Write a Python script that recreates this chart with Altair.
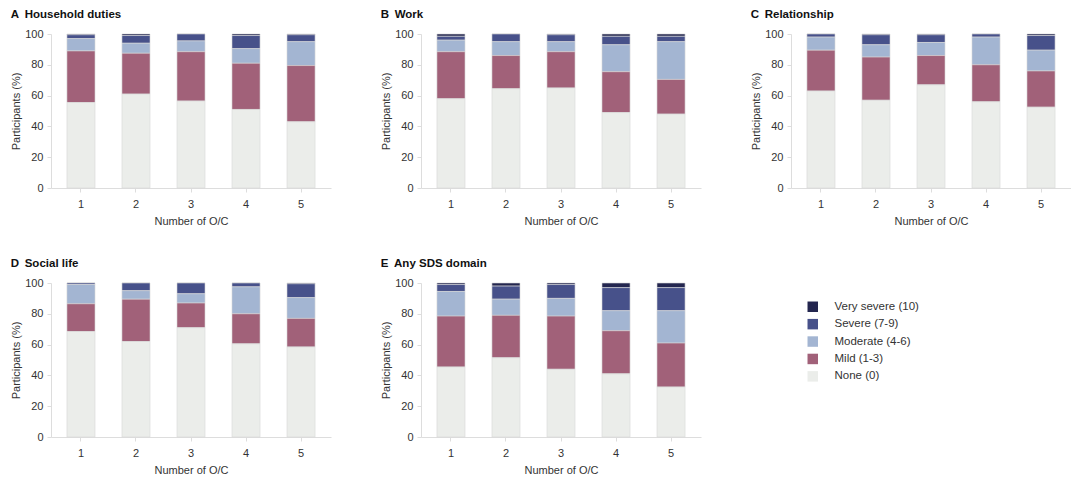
import altair as alt
import pandas as pd

levels = ["Very severe (10)", "Severe (7-9)", "Moderate (4-6)", "Mild (1-3)", "None (0)"]
colors = ["#23264f", "#47518a", "#a3b5d2", "#a16179", "#ebedea"]
oc = ["1", "2", "3", "4", "5"]

panels = ["A\u2002Household duties", "B\u2002Work", "C\u2002Relationship", "D\u2002Social life", "E\u2002Any SDS domain"]

# values per panel and severity level, per O/C count 1..5
household_none = [55.5, 61, 56.5, 51, 43]
household_mild = [33.5, 26.5, 32, 30, 36.5]
household_mod = [8, 6.5, 7, 9.5, 15.5]
household_sev = [2.5, 5, 4.5, 8.5, 4.5]
household_vs = [0.5, 1, 0, 1, 0.5]

work_none = [58, 64.5, 65, 49, 48]
work_mild = [30.5, 21.5, 23.5, 26.5, 22.5]
work_mod = [7.5, 9, 6.5, 17.5, 24.5]
work_sev = [2.5, 5, 4.5, 5.5, 3.5]
work_vs = [1.5, 0, 0.5, 1.5, 1.5]

rel_none = [63, 57, 67, 56, 52.5]
rel_mild = [26.5, 28, 19, 24, 23.5]
rel_mod = [8.5, 8, 8.5, 18, 13.5]
rel_sev = [2, 6.5, 5, 2, 9.5]
rel_vs = [0, 0.5, 0.5, 0, 1]

soc_none = [68.5, 62, 71, 60.5, 58.5]
soc_mild = [18, 27.5, 16, 19.5, 18.5]
soc_mod = [12.5, 5.5, 6, 17.5, 13.5]
soc_sev = [1, 5, 7, 2.5, 9]
soc_vs = [0, 0, 0, 0, 0.5]

any_none = [45.5, 51.5, 44, 41, 32.5]
any_mild = [33, 27.5, 34.5, 28, 28.5]
any_mod = [16, 10.5, 11.5, 13, 21]
any_sev = [4.5, 8.5, 9, 15, 15]
any_vs = [1, 2, 1, 3, 3]

series = {
    panels[0]: [household_vs, household_sev, household_mod, household_mild, household_none],
    panels[1]: [work_vs, work_sev, work_mod, work_mild, work_none],
    panels[2]: [rel_vs, rel_sev, rel_mod, rel_mild, rel_none],
    panels[3]: [soc_vs, soc_sev, soc_mod, soc_mild, soc_none],
    panels[4]: [any_vs, any_sev, any_mod, any_mild, any_none],
}

rows = []
for p, vals in series.items():
    for li, lvl in enumerate(levels):
        for i, o in enumerate(oc):
            rows.append({"panel": p, "level": lvl, "rank": 4 - li, "oc": o, "value": vals[li][i]})
df = pd.DataFrame(rows)

FONT = "Liberation Sans"

legend = alt.Legend(
    title=None, orient="none", legendX=756, legendY=267,
    symbolType="square", symbolSize=110, symbolStrokeWidth=0,
    labelFontSize=11.5, labelColor="#333333", labelFont=FONT,
    rowPadding=4.4, labelOffset=16, labelLimit=200,
)


def panel(name):
    d = df[df.panel == name]
    return (
        alt.Chart(d)
        .mark_bar(stroke="#d6d6d6", strokeWidth=0.6)
        .encode(
            x=alt.X("oc:N", title="Number of O/C",
                    scale=alt.Scale(paddingInner=0.49, paddingOuter=0.29),
                    axis=alt.Axis(labelAngle=0)),
            y=alt.Y("value:Q", title="Participants (%)", stack="zero",
                    scale=alt.Scale(domain=[0, 100]),
                    axis=alt.Axis(values=[0, 20, 40, 60, 80, 100], grid=False)),
            color=alt.Color("level:N", scale=alt.Scale(domain=levels, range=colors), legend=legend),
            order=alt.Order("rank:Q", sort="ascending"),
        )
        .properties(
            width=280, height=154,
            title=alt.TitleParams(name, anchor="start", fontSize=11.5, fontWeight="bold",
                                  font=FONT, color="#111111", offset=8),
        )
    )


row1 = alt.hconcat(panel(panels[0]), panel(panels[1]), panel(panels[2]), spacing=49)
row2 = alt.hconcat(panel(panels[3]), panel(panels[4]), spacing=49)

chart = (
    alt.vconcat(row1, row2, spacing=31)
    .properties(padding={"left": 2, "top": 0, "right": 0, "bottom": 0})
    .configure_view(stroke=None)
    .configure_axis(
        labelFont=FONT, titleFont=FONT, labelFontSize=11, titleFontSize=11,
        labelColor="#333333", titleColor="#333333", titleFontWeight="normal",
        domainColor="#dddddd", tickColor="#dddddd", tickSize=4, labelPadding=4,
    )
    .configure_axisX(titlePadding=6, labelPadding=6)
    .configure_axisY(titlePadding=3)
)

chart.save("out.html", embed_options={"renderer": "svg", "actions": False})
